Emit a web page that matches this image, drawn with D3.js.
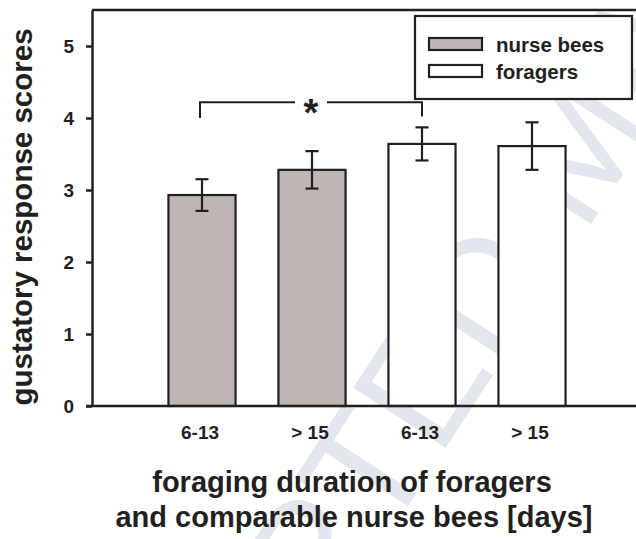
<!DOCTYPE html>
<html>
<head>
<meta charset="utf-8">
<script src="https://cdn.jsdelivr.net/npm/d3@7"></script>
<style>
    body { margin: 0; background: #fff; }
    svg text { font-family: "Liberation Sans", Arial, sans-serif; fill: #231f20; }
</style>
</head>
<body>
<svg id="chart" width="636" height="539"></svg>
<script>
// chart values
const categories = ["6-13", "> 15", "6-13", "> 15"];
const groups = ["nurse bees", "nurse bees", "foragers", "foragers"];
const means = [2.93, 3.28, 3.64, 3.61];
const errors = [0.22, 0.26, 0.23, 0.33];
const yTicks = [0, 1, 2, 3, 4, 5];
const legendItems = ["nurse bees", "foragers"];
const bracket = { from: 0, to: 2, level: 4.22, base: 4.0, label: "*" };

const svg = d3.select("#chart");
const width = 636;
const height = 539;
const margin = { top: 10, right: -6, bottom: 133, left: 92 };
const ink = "#231f20";

const fillColor = d3.scaleOrdinal()
    .domain(legendItems)
    .range(["#bfb6b4", "#ffffff"]);

// faint watermark, sits under the bars
svg.append("text")
    .attr("transform", "translate(85,1003) rotate(-57)")
    .attr("font-size", 160)
    .style("fill", "#e2e6ed")
    .text("ACCEPTED MANUSCRIPT");

let xScale = d3.scaleBand()
    .domain(d3.range(categories.length))
    .range([margin.left, width - margin.right])
    .paddingInner(0.39)
    .paddingOuter(0.695);

let yScale = d3.scaleLinear()
    .domain([0, 5.5])
    .range([height - margin.bottom, margin.top]);

// bars
svg.selectAll(".bar")
    .data(means)
    .enter()
    .append("rect")
    .attr("class", "bar")
    .attr("x", (d, i) => xScale(i))
    .attr("y", d => yScale(d))
    .attr("width", xScale.bandwidth())
    .attr("height", d => yScale(0) - yScale(d))
    .attr("fill", (d, i) => fillColor(groups[i]))
    .attr("stroke", ink)
    .attr("stroke-width", 2.2);

// error bars
const cap = 6.5;
const err = svg.append("g").attr("stroke", ink).attr("stroke-width", 2.2);
means.forEach((m, i) => {
    let cx = xScale(i) + xScale.bandwidth() / 2;
    let top = yScale(m + errors[i]);
    let bot = yScale(m - errors[i]);
    err.append("line").attr("x1", cx).attr("x2", cx).attr("y1", top).attr("y2", bot);
    err.append("line").attr("x1", cx - cap).attr("x2", cx + cap).attr("y1", top).attr("y2", top);
    err.append("line").attr("x1", cx - cap).attr("x2", cx + cap).attr("y1", bot).attr("y2", bot);
});

// frame: top border + bottom axis line
svg.append("line")
    .attr("x1", margin.left).attr("x2", width + 10)
    .attr("y1", yScale(5.5)).attr("y2", yScale(5.5))
    .attr("stroke", ink).attr("stroke-width", 2.5);
svg.append("line")
    .attr("x1", margin.left - 6).attr("x2", width + 10)
    .attr("y1", yScale(0)).attr("y2", yScale(0))
    .attr("stroke", ink).attr("stroke-width", 2.5);

// y axis
let yAxis = d3.axisLeft(yScale)
    .tickValues(yTicks)
    .tickFormat(d3.format("d"))
    .tickSize(6).tickSizeOuter(0).tickPadding(12);
let yg = svg.append("g")
    .attr("transform", `translate(${margin.left},0)`)
    .call(yAxis);
yg.select(".domain").attr("stroke", ink).attr("stroke-width", 2.5);
yg.selectAll(".tick line").attr("stroke", ink).attr("stroke-width", 2.5);
yg.selectAll(".tick text")
    .attr("font-size", 19).attr("font-weight", "bold")
    .style("fill", ink);

// x axis (labels only)
let xAxis = d3.axisBottom(xScale).tickSize(0).tickPadding(20).tickFormat(i => categories[i]);
let xg = svg.append("g")
    .attr("transform", `translate(-2,${yScale(0)})`)
    .call(xAxis);
xg.select(".domain").remove();
xg.selectAll(".tick text")
    .attr("font-size", 19).attr("font-weight", "bold")
    .style("fill", ink);

// significance bracket
let bx1 = xScale(bracket.from) + xScale.bandwidth() / 2 - 2;
let bx2 = xScale(bracket.to) + xScale.bandwidth() / 2;
let by = yScale(bracket.level);
let bmid = (bx1 + bx2) / 2;
let gap = 16;
let br = svg.append("g").attr("fill", "none").attr("stroke", ink).attr("stroke-width", 2);
br.append("path").attr("d", `M${bx1},${yScale(bracket.base)}V${by}H${bmid - gap}`);
br.append("path").attr("d", `M${bmid + gap},${by}H${bx2}V${yScale(bracket.base) - 1.5}`);
svg.append("text")
    .attr("x", bmid).attr("y", by + 24)
    .attr("text-anchor", "middle")
    .attr("font-size", 38).attr("font-weight", "bold")
    .text(bracket.label);

// legend
let lg = svg.append("g");
lg.append("rect")
    .attr("x", 415).attr("y", 16).attr("width", 217).attr("height", 83)
    .attr("fill", "#fff").attr("stroke", ink).attr("stroke-width", 2.2);
legendItems.forEach((name, i) => {
    lg.append("rect")
        .attr("x", 429).attr("y", 38 + i * 27).attr("width", 53).attr("height", 12)
        .attr("fill", fillColor(name)).attr("stroke", ink).attr("stroke-width", 2.2);
    lg.append("text")
        .attr("x", 496).attr("y", 52 + i * 27)
        .attr("font-size", 20.5).attr("font-weight", "bold")
        .text(name);
});

// axis titles
svg.append("text")
    .attr("transform", `translate(32,${(yScale(0) + yScale(5.5)) / 2 + 9}) rotate(-90)`)
    .attr("text-anchor", "middle")
    .attr("font-size", 29.5).attr("font-weight", "bold")
    .text("gustatory response scores");

let xt = svg.append("text")
    .attr("text-anchor", "middle")
    .attr("font-size", 29).attr("font-weight", "bold");
xt.append("tspan").attr("x", 352).attr("y", 492).text("foraging duration of foragers");
xt.append("tspan").attr("x", 354).attr("y", 527).text("and comparable nurse bees [days]");
</script>
</body>
</html>
